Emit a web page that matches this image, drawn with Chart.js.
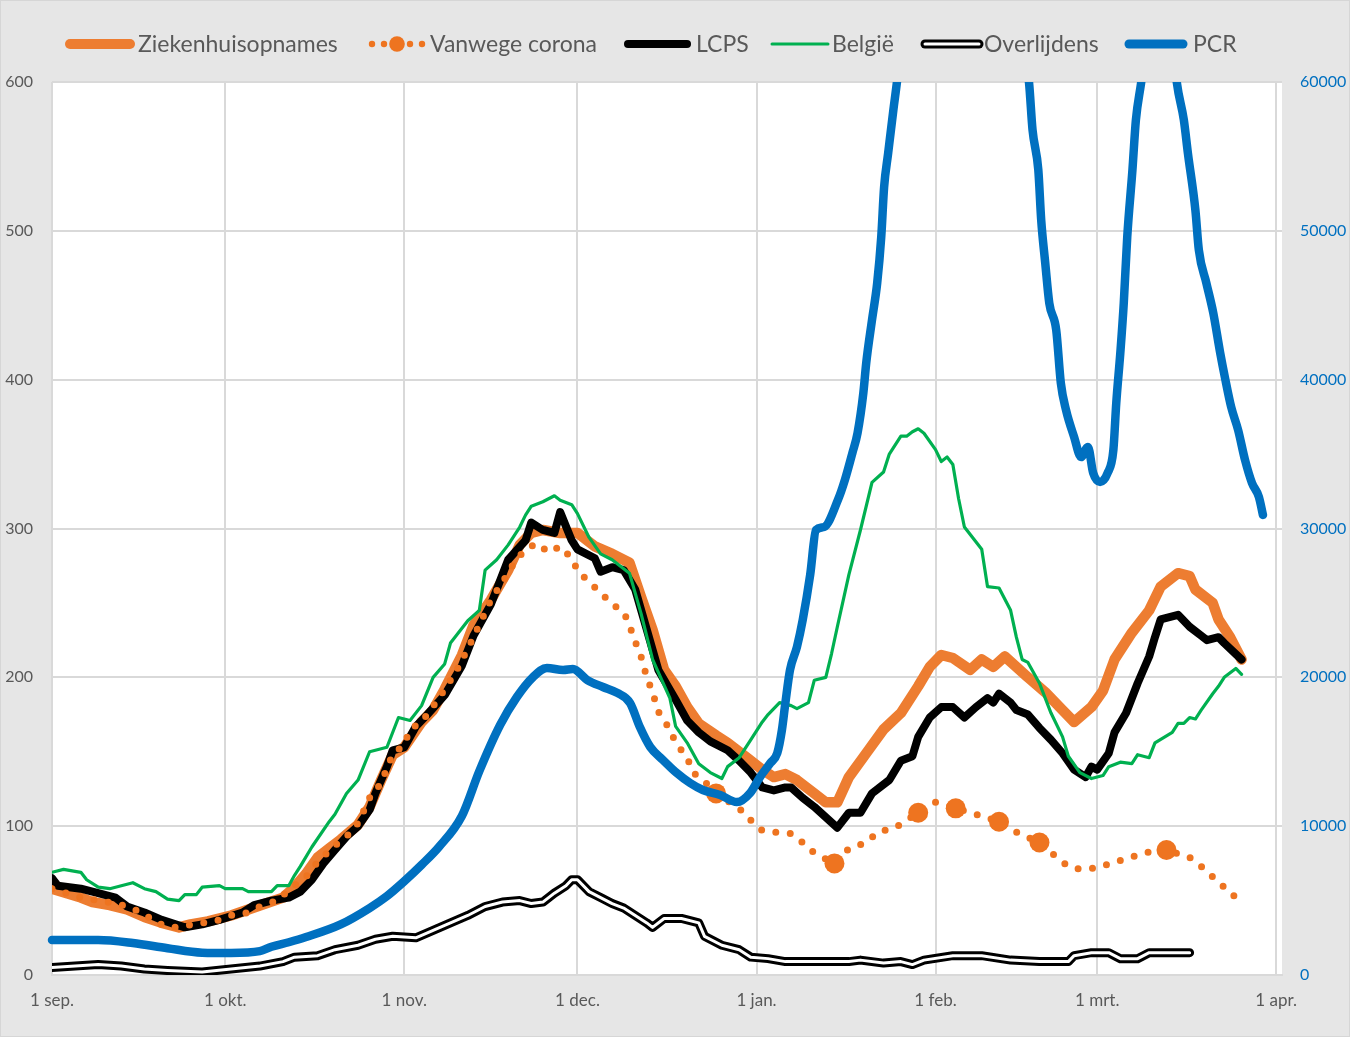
<!DOCTYPE html>
<html>
<head>
<meta charset="utf-8">
<script src="https://cdn.jsdelivr.net/npm/chart.js@4.4.0/dist/chart.umd.min.js"></script>
<style>
  html, body { margin: 0; padding: 0; background: #e6e6e6; }
  #wrap { position: relative; width: 1350px; height: 1037px; }
</style>
</head>
<body>
<div id="wrap"><canvas id="chart"></canvas></div>
<script>
// --- DATA (dagen sinds 1 september) --- //
const monthStarts = [0, 30, 61, 91, 122, 153, 181, 212];
const monthLabels = ['1 sep.', '1 okt.', '1 nov.', '1 dec.', '1 jan.', '1 feb.', '1 mrt.', '1 apr.'];
const leftTicks = [0, 100, 200, 300, 400, 500, 600];
const rightTicks = [0, 10000, 20000, 30000, 40000, 50000, 60000];

// Ziekenhuisopnames
const zDays = [0,5,7,10,13,16,19,22,24,27,31,34,37,40,42,44,46,48,50,53,55,57,59,61,64,66,68,71,73,76,79,81,83,85,88,91,94,97,100,102,104,106,108,110,112,115,117,120,123,125,127,129,132,134,136,138,141,144,147,150,152,154,156,159,161,163,165,169,172,175,177,180,182,184,187,190,192,195,197,198,201,202,204,206];
const zVals = [58,52,49,47,44,39,35,32,34,36,40,44,48,52,59,68,79,85,91,101,113,131,148,153,170,178,192,215,235,252,272,289,297,299,297,297,288,283,277,254,232,205,194,180,169,161,156,147,138,133,135,131,122,116,116,133,149,165,176,194,207,215,213,205,212,207,214,200,190,178,170,180,191,212,230,245,261,270,268,259,250,239,227,212];

// Vanwege corona
const vDays = [0,5,11,13,16,18,21,23,26,29,31,34,36,39,41,44,46,49,51,53,55,57,58,59,61,62,64,67,70,73,76,79,80,82,84,86,88,90,91,93,95,97,99,100,101,102,103,104,105,107,108,110,111,113,115,119,121,123,125,128,130,132,135.5,138,141,143,146,150,153,155,156.5,160,164,167,171,174,176,178,181,184,186,189,193,197,199,201,203,205];
const vVals = [58,52,48,46,41,35,32,33,35,37,40,42,46,50,57,66,76,87,93,102,119,129,139,148,155,165,170,186,204,227,252,270,277,286,290,284,288,280,272,264,257,249,244,235,224,214,200,190,177,165,156,146,136,130,122,112,104,97,96,95,89,82,75,85,89,96,99,109,116,114,112,108,103,96,89,79,73,71,72,76,78,82,84,79,73,66,59,52];
const vMarkerDays = [115, 135.5, 150, 156.5, 164, 171, 193];

// LCPS
const lDays = [0,1,5,8,11,13,16,19,23,26,29,33,35,38,41,43,45,47,49,51,53,55,56,58,59,61,63,65,68,71,73,76,79,82,83,85,87,88,90,91,94,95,97,99,101,103,105,108,110,112,114,117,119,121,123,125,127,128,130,132,134,136,138,140,142,145,147,149,150,152,154,156,158,160,162,163,164,166,167,169,171,173,175,177,179,180,181,183,184,186,188,190,191,192,195,197,199,200,202,203,206];
const lVals = [65,60,58,55,52,46,42,37,32,34,37,42,47,50,52,56,64,75,84,93,100,111,122,140,151,153,167,175,188,208,228,249,279,292,304,299,297,311,292,286,280,271,274,272,259,232,205,185,171,163,157,151,144,136,126,124,126,126,119,113,106,99,109,109,122,131,144,147,160,173,180,180,173,180,186,183,189,183,178,175,166,158,149,138,133,140,138,149,163,176,196,214,227,239,242,234,228,225,227,223,212];

// België
const bDays = [0,2,5,6,8,10,12,14,16,18,20,22,23,25,26,29,30,33,34,38,39,41,42,43,45,48,49,51,53,55,58,60,62,64,66,68,69,72,74,75,77,79,81,82,83,85,87,88,90,91,93,95,97,100,102,104,107,108,110,112,114,116,117,119,121,123,124,126,128,129,131,132,134,135,136,138,140,142,144,145,147,148,149,150,151,153,154,155,156,157,158,161,162,164,166,167,168,169,171,173,175,176,178,180,182,183,185,187,188,190,191,194,195,196,197,198,199,201,202,203,205,206];
const bVals = [69,71,69,64,59,58,60,62,58,56,51,50,54,54,59,60,58,58,56,56,60,60,67,73,86,103,108,122,131,150,153,173,171,181,200,209,223,238,245,272,279,289,301,309,315,318,322,319,316,310,294,283,279,270,243,212,186,167,156,142,136,132,140,146,158,170,175,183,181,179,183,198,200,216,234,269,299,331,338,350,362,362,365,367,364,353,345,348,343,320,301,286,261,260,245,227,212,210,196,176,160,147,136,132,134,140,143,142,148,146,156,163,169,169,173,172,178,189,194,200,206,202];

// Overlijdens
const oDays = [0,4,8,12,16,20,26,31,36,40,42,46,49,53,56,59,63,66,69,72,75,78,81,83,85,87,89,90,91,93,95,97,99,101,103,104,106,109,112,113,116,119,121,124,127,132,138,140,144,147,149,151,156,161,166,171,176,177,180,183,185,188,190,193,197];
const oVals = [5,6,7,6,4,3,2,4,6,9,12,13,17,20,24,26,25,30,35,40,46,49,50,48,49,55,60,64,64,56,52,48,45,40,35,32,38,38,35,26,20,17,12,11,9,9,9,10,8,9,7,10,13,13,10,9,9,13,15,15,11,11,15,15,15];

// PCR (rechteras)
const pDays = [0,8,14,20,26,31,36,38,41,44,50,55,58,61,64,67,71,74,77.6,80.5,83.3,85.7,88.5,90.2,92.7,95.4,97.9,100.1,101.8,103.6,105.8,108.2,110.5,112.7,115.7,118.6,120.9,122.6,124.4,125.6,126.4,127,127.8,129,130,131.3,132.3,133.7,136.1,137.3,138.6,139.5,140.5,141,142,142.9,143.6,144.1,144.8,145.7,146.3,148,151,155,159,163,166.5,169.2,169.8,170.8,171.3,172,172.7,173.9,174.7,175.6,177,178.2,179.4,180.3,181.5,182.8,183.8,184.3,185,185.6,186.2,187.1,187.7,188.6,190,192,194,194.8,196,196.7,198,198.6,199.9,201.1,202.3,203.1,204.2,205.4,206.6,207.8,209,209.7];
const pVals = [2350,2350,2150,1800,1500,1480,1600,1900,2200,2550,3400,4500,5300,6300,7400,8600,10700,13700,16800,18680,20020,20630,20490,20560,19820,19350,18950,18280,16660,15320,14450,13570,12900,12430,12090,11620,12230,13300,14240,14920,16460,18280,20490,22040,23850,26900,29900,30100,31920,33260,35070,36420,39100,41120,44010,46500,49590,52950,55230,58120,59930,66000,75000,81000,82000,76000,67000,59930,56780,54090,50730,47840,45150,43340,39780,37960,36150,34800,35480,33730,33130,33730,35280,38430,41790,45150,49590,54090,57450,59930,64000,67000,63000,59930,57450,55230,51400,48710,46500,44480,41790,40180,38160,36620,34600,33060,32120,30910];

// --- HULPFUNCTIES --- //
const toPoints = (days, vals) => days.map((d, i) => ({ x: d, y: vals[i] }));
const grijsTekst = '#595959';

// achtergrond: grijs rondom, wit plotvlak
const achtergrond = {
  id: 'achtergrond',
  beforeDraw(chart) {
    const { ctx, chartArea: a, width, height } = chart;
    ctx.save();
    ctx.fillStyle = '#e6e6e6';
    ctx.fillRect(0, 0, width, height);
    ctx.strokeStyle = '#d6d6d6';
    ctx.lineWidth = 1;
    ctx.strokeRect(0.5, 0.5, width - 1, height - 1);
    ctx.fillStyle = '#ffffff';
    ctx.fillRect(a.left, a.top, a.right - a.left, a.bottom - a.top);
    ctx.restore();
  }
};

// legenda bovenaan, zelf getekend (dubbele lijn en stippellijn met bol)
const legendaItems = [
  { label: 'Ziekenhuisopnames', kind: 'line', color: '#ed7d31', w: 10, x0: 70, x1: 130, tx: 138 },
  { label: 'Vanwege corona', kind: 'dots', color: '#ee7420', x0: 372, x1: 422, tx: 430 },
  { label: 'LCPS', kind: 'line', color: '#000000', w: 8, x0: 628, x1: 687, tx: 696 },
  { label: 'België', kind: 'line', color: '#00b050', w: 3, x0: 772, x1: 828, tx: 832 },
  { label: 'Overlijdens', kind: 'double', color: '#000000', x0: 925, x1: 979, tx: 984 },
  { label: 'PCR', kind: 'line', color: '#0070c0', w: 9, x0: 1129, x1: 1183, tx: 1193 }
];

const legenda = {
  id: 'legenda',
  afterDraw(chart) {
    const ctx = chart.ctx;
    const y = 44;
    ctx.save();
    ctx.font = '20px Lato';
    const schaal = 200 / ctx.measureText('Ziekenhuisopnames').width;
    ctx.font = (20 * schaal).toFixed(1) + 'px Lato';
    ctx.textBaseline = 'middle';
    ctx.lineCap = 'round';
    legendaItems.forEach(it => {
      if (it.kind === 'line') {
        ctx.strokeStyle = it.color;
        ctx.lineWidth = it.w;
        ctx.beginPath(); ctx.moveTo(it.x0, y); ctx.lineTo(it.x1, y); ctx.stroke();
      } else if (it.kind === 'double') {
        ctx.strokeStyle = '#000'; ctx.lineWidth = 9;
        ctx.beginPath(); ctx.moveTo(it.x0, y); ctx.lineTo(it.x1, y); ctx.stroke();
        ctx.strokeStyle = '#fff'; ctx.lineWidth = 3;
        ctx.beginPath(); ctx.moveTo(it.x0, y); ctx.lineTo(it.x1, y); ctx.stroke();
      } else {
        ctx.fillStyle = it.color;
        [372, 384, 410, 422].forEach(x => { ctx.beginPath(); ctx.arc(x, y, 3.2, 0, Math.PI * 2); ctx.fill(); });
        ctx.beginPath(); ctx.arc(397, y, 7.8, 0, Math.PI * 2); ctx.fill();
      }
      ctx.fillStyle = grijsTekst;
      ctx.fillText(it.label, it.tx, y + 1);
    });
    ctx.restore();
  }
};

// --- GRAFIEK --- //
const lijn = (extra) => Object.assign({
  pointRadius: 0,
  tension: 0,
  fill: false,
  borderCapStyle: 'round',
  borderJoinStyle: 'round'
}, extra);

new Chart(document.getElementById('chart'), {
  type: 'line',
  data: {
    datasets: [
      lijn({ label: 'PCR', data: toPoints(pDays, pVals), yAxisID: 'y1', borderColor: '#0070c0', borderWidth: 8.5, order: 0,
             cubicInterpolationMode: 'monotone', clip: { left: 6, top: 0, right: 6, bottom: 6 } }),
      lijn({ label: 'Overlijdens', data: toPoints(oDays, oVals), borderColor: '#ffffff', borderWidth: 3, order: 1 }),
      lijn({ label: 'Overlijdens-rand', data: toPoints(oDays, oVals), borderColor: '#000000', borderWidth: 9, order: 2 }),
      lijn({ label: 'België', data: toPoints(bDays, bVals), borderColor: '#00b050', borderWidth: 3.2, order: 3 }),
      lijn({ label: 'Vanwege corona', data: toPoints(vDays, vVals), borderColor: '#ee7420', backgroundColor: '#ee7420',
             borderWidth: 7, borderDash: [0, 14.5], order: 4,
             pointRadius: ctx => vMarkerDays.includes(vDays[ctx.dataIndex]) ? 10 : 0, pointBorderWidth: 0 }),
      lijn({ label: 'LCPS', data: toPoints(lDays, lVals), borderColor: '#000000', borderWidth: 8, order: 5 }),
      lijn({ label: 'Ziekenhuisopnames', data: toPoints(zDays, zVals), borderColor: '#ed7d31', borderWidth: 10.5, order: 6 })
    ]
  },
  options: {
    responsive: true,
    maintainAspectRatio: false,
    animation: false,
    events: [],
    layout: { padding: { top: 82, left: 0, right: 0, bottom: 0 } },
    plugins: { legend: { display: false }, tooltip: { enabled: false } },
    scales: {
      x: {
        type: 'linear',
        min: 0,
        max: 213,
        afterBuildTicks: s => { s.ticks = monthStarts.map(v => ({ value: v })); },
        afterFit: s => { s.height = 62; },
        ticks: {
          autoSkip: false, maxRotation: 0, padding: 15, color: grijsTekst,
          font: { family: 'Lato', size: 17 },
          callback: v => monthLabels[monthStarts.indexOf(v)]
        },
        grid: { color: '#d9d9d9', lineWidth: 2, drawTicks: false },
        border: { color: '#d9d9d9', width: 2 }
      },
      y: {
        min: 0,
        max: 600,
        afterBuildTicks: s => { s.ticks = leftTicks.map(v => ({ value: v })); },
        afterFit: s => { s.width = 52; },
        ticks: { padding: 19, color: grijsTekst, font: { family: 'Lato', size: 16 }, callback: v => String(v) },
        grid: { color: '#d9d9d9', lineWidth: 2, drawTicks: false },
        border: { display: false }
      },
      y1: {
        position: 'right',
        min: 0,
        max: 60000,
        afterBuildTicks: s => { s.ticks = rightTicks.map(v => ({ value: v })); },
        afterFit: s => { s.width = 68; },
        ticks: { padding: 18, color: '#0070c0', font: { family: 'Lato', size: 16 }, callback: v => String(v) },
        grid: { display: false, drawTicks: false },
        border: { display: false }
      }
    }
  },
  plugins: [achtergrond, legenda]
});
</script>
</body>
</html>
